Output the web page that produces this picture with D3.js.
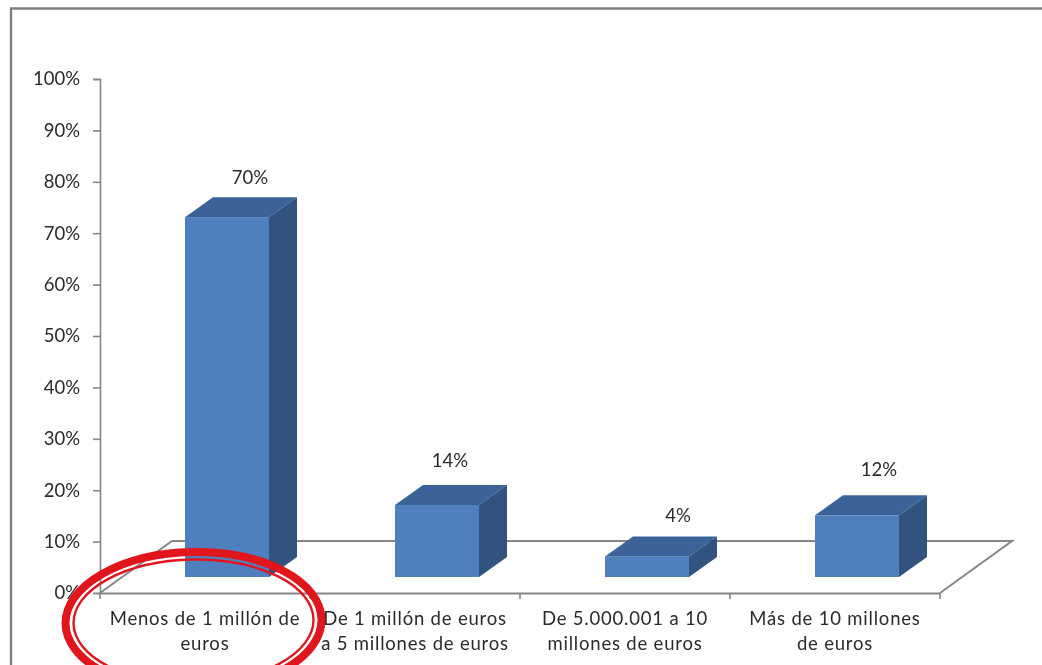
<!DOCTYPE html>
<html><head><meta charset="utf-8">
<script src="https://cdn.jsdelivr.net/npm/d3@7/dist/d3.min.js"></script>
<style>html,body{margin:0;padding:0;background:#fff;overflow:hidden}svg{display:block}
text{font-family:Lato,"Open Sans",sans-serif;fill:#2b2b2b;font-size:18.5px}</style></head>
<body><svg id="c" width="1042" height="665"></svg>
<script>
const categories = ["Menos de 1 millón de euros","De 1 millón de euros a 5 millones de euros","De 5.000.001 a 10 millones de euros","Más de 10 millones de euros"];
const categoryLines = [["Menos de 1 millón de","euros"],["De 1 millón de euros","a 5 millones de euros"],["De 5.000.001 a 10","millones de euros"],["Más de 10 millones","de euros"]];
const values = [0.70,0.14,0.04,0.12];
const valueLabels = ["70%","14%","4%","12%"];
const yTicks = [0,0.1,0.2,0.3,0.4,0.5,0.6,0.7,0.8,0.9,1];

const svg = d3.select("#c");
const defs = svg.append("defs");
defs.append("filter").attr("id","soft").attr("x","-2%").attr("y","-2%").attr("width","104%").attr("height","104%")
  .append("feGaussianBlur").attr("stdDeviation",0.6);
const root = svg.append("g").attr("filter","url(#soft)");

const axisCol = "#868686";
const x = d3.scaleBand().domain(categories).range([100,940]);
const y = d3.scaleLinear().domain([0,1]).range([593,79]);
const barW = 84, offX = 22, offY = 16, depX = 28, depY = 20;
const floorX = 2*offX+depX, floorY = 2*offY+depY;

// frame
root.append("path").attr("d","M11,665V8.5H1042").attr("fill","none").attr("stroke","#808080").attr("stroke-width",2.4);

// floor
root.append("path")
  .attr("d",`M${x.range()[0]},${y(0)}L${x.range()[0]+floorX},${y(0)-floorY}H${x.range()[1]+floorX}L${x.range()[1]},${y(0)}`)
  .attr("fill","none").attr("stroke",axisCol).attr("stroke-width",2);

// y axis
const yAxis = root.append("g").attr("transform","translate(100,0)")
  .call(d3.axisLeft(y).tickValues(yTicks).tickFormat(d3.format(".0%")).tickSize(7).tickPadding(6));
yAxis.selectAll("path,line").attr("stroke",axisCol).attr("stroke-width",1.6);
yAxis.selectAll("text").attr("fill","#2b2b2b").style("font-size","18.5px").style("font-family","Lato,'Open Sans',sans-serif").attr("x",-20);

// x axis
const xAxis = root.append("g").attr("transform",`translate(0,${y(0)})`)
  .call(d3.axisBottom(x).tickValues([]).tickSizeOuter(0));
xAxis.selectAll("path").attr("stroke",axisCol).attr("stroke-width",2);
root.append("g").selectAll("line").data(d3.range(categories.length+1)).join("line")
  .attr("x1",i=>x.range()[0]+i*x.step()).attr("x2",i=>x.range()[0]+i*x.step())
  .attr("y1",y(0)).attr("y2",y(0)+6).attr("stroke",axisCol).attr("stroke-width",1.6);

// bars
const bars = root.append("g").selectAll("g").data(categories).join("g");
const bx = d => x(d)+(x.bandwidth()-barW)/2+offX;
const by0 = y(0)-offY;
const h = (y(0)-y(1));
const topOf = (d,i) => by0-values[i]*h;
bars.append("rect").attr("x",bx).attr("y",topOf).attr("width",barW)
  .attr("height",(d,i)=>values[i]*h).attr("fill","#4f7fbc");
bars.append("path").attr("fill","#3a6399")
  .attr("d",(d,i)=>{const a=bx(d),t=topOf(d,i);return `M${a},${t}l${depX},${-depY}h${barW}l${-depX},${depY}Z`;});
bars.append("path").attr("fill","#30527f")
  .attr("d",(d,i)=>{const a=bx(d)+barW,t=topOf(d,i);return `M${a},${t}l${depX},${-depY}V${by0-depY}l${-depX},${depY}Z`;});
const nudgeX = [-5,-15,3,-6], nudgeY = [-13,-18,-14,-19];
bars.append("text").attr("text-anchor","middle")
  .attr("x",(d,i)=>bx(d)+barW/2+depX+nudgeX[i]).attr("y",(d,i)=>topOf(d,i)-depY+nudgeY[i])
  .text((d,i)=>valueLabels[i]);

// category labels
const labels = root.append("g").selectAll("text").data(categories).join("text")
  .attr("text-anchor","middle").style("letter-spacing","0.8px");
labels.selectAll("tspan").data((d,i)=>categoryLines[i].map(t=>({t,c:d}))).join("tspan")
  .attr("x",d=>x(d.c)+x.bandwidth()/2).attr("y",(d,j)=>625+j*25).text(d=>d.t);

// red hand-drawn circle
const ring = root.append("g").attr("fill","none").attr("stroke","#e0141f")
  .attr("transform","rotate(-1 194 621)");
ring.append("ellipse").attr("cx",193.5).attr("cy",621.5).attr("rx",128).attr("ry",69.5).attr("stroke-width",8);
ring.append("ellipse").attr("cx",193.5).attr("cy",621.5).attr("rx",120).attr("ry",62).attr("stroke-width",2.4);
</script></body></html>
